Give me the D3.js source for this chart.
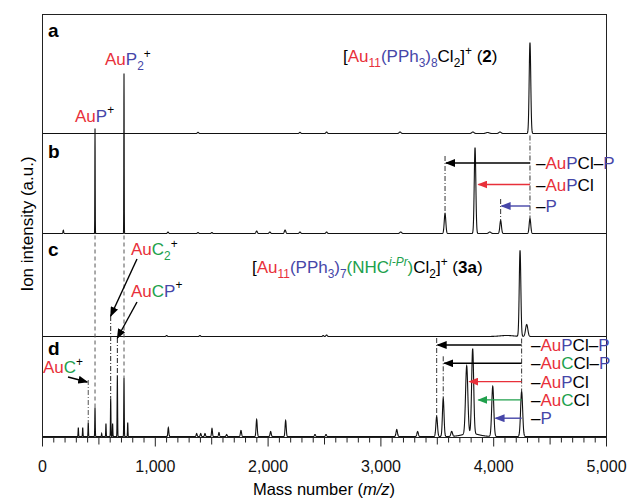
<!DOCTYPE html>
<html>
<head>
<meta charset="utf-8">
<script src="https://cdn.jsdelivr.net/npm/d3@7"></script>
<style>
body { margin: 0; background: #fff; }
text { font-family: "Liberation Sans", Arial, Helvetica, sans-serif; }
</style>
</head>
<body>
<script>
(function(){

    // peak lists: m/z, intensity (a.u.), peak sigma (m/z)
    var massA = [1383, 2287, 2523, 3174, 3820, 3950, 4060, 4326];
    var intA  = [1.2, 1.2, 1.5, 1.5, 1.5, 1, 1.5, 91];
    var sigA  = [6, 6, 6, 8, 10, 14, 10, 7];

    var massB = [189, 470, 727, 1117, 1383, 1506, 1903, 2020, 2155, 2287, 2523, 3180, 3573, 3839, 3970, 4066, 4326];
    var intB  = [3.3, 105, 160, 1.5, 1, 1, 2.5, 1.5, 3.5, 1.5, 1.5, 1.5, 20, 86, 1.5, 13, 15];
    var sigB  = [3, 1.5, 1.5, 5, 5, 5, 6, 6, 6, 6, 6, 8, 7, 7, 10, 7, 7];

    var massC = [1105, 1400, 2493, 2523, 4120, 4238, 4297];
    var intC  = [1, 1, 1, 1.5, 1, 86, 12];
    var sigC  = [5, 5, 5, 6, 60, 7, 10];

    var massD = [322, 361, 410, 470, 529, 567, 609, 626, 668, 727, 760,
                 1120, 1371, 1407, 1445, 1507, 1569, 1637, 1764, 1903, 2027, 2160, 2420, 2518,
                 3145, 3330, 3499, 3557, 3632, 3765, 3800, 3818, 3996, 4252];
    var intD  = [9, 9, 14, 29, 3, 13, 38, 13, 61, 59, 14,
                 9, 3, 3, 3, 8, 4, 2, 6, 17, 5, 16, 2, 2,
                 7, 5, 20, 38, 5, 68, 3, 85, 50, 45];
    var sigD  = [2, 2, 2, 2, 2, 2, 2, 2, 2, 2, 2,
                 4, 4, 4, 4, 4, 4, 4, 5, 5, 5, 5, 5, 5,
                 6, 6, 7, 7, 7, 10, 70, 9, 9, 9];

    var xTicks = [0, 1000, 2000, 3000, 4000, 5000];

    var R = "#e8303a", B = "#4646a8", G = "#20a04c", K = "#000";

    // fragment annotations: parent m/z, target m/z, arrow colour, label parts
    var fragB = [
        {from: 4326, to: 3573, color: K, dash: true,
         label: [["\u2013", K], ["Au", R], ["P", B], ["Cl\u2013", K], ["P", B]]},
        {from: 4326, to: 3860, color: R, dash: false,
         label: [["\u2013", K], ["Au", R], ["P", B], ["Cl", K]]},
        {from: 4326, to: 4066, color: B, dash: true,
         label: [["\u2013", K], ["P", B]]}
    ];
    var fragD = [
        {from: 4252, to: 3499, color: K, dash: true,
         label: [["\u2013", K], ["Au", R], ["P", B], ["Cl\u2013", K], ["P", B]]},
        {from: 4252, to: 3557, color: K, dash: true,
         label: [["\u2013", K], ["Au", R], ["C", G], ["Cl\u2013", K], ["P", B]]},
        {from: 4252, to: 3780, color: R, dash: false,
         label: [["\u2013", K], ["Au", R], ["P", B], ["Cl", K]]},
        {from: 4252, to: 3860, color: G, dash: false,
         label: [["\u2013", K], ["Au", R], ["C", G], ["Cl", K]]},
        {from: 4252, to: 4012, color: B, dash: false,
         label: [["\u2013", K], ["P", B]]}
    ];

    var width = 627, height = 501;
    var left = 42, right = 606, top = 14, bottom = 437;
    var base = {a: 133.5, b: 233.5, c: 336.5, d: 436.5};

    var svg = d3.select("body").append("svg")
        .attr("width", width)
        .attr("height", height);

    var defs = svg.append("defs");
    [K, R, G, B].forEach(function(c, i) {
        defs.append("marker")
            .attr("id", "arr" + i)
            .attr("markerUnits", "userSpaceOnUse")
            .attr("viewBox", "0 0 10 8")
            .attr("refX", 9).attr("refY", 4)
            .attr("markerWidth", 10).attr("markerHeight", 8)
            .attr("orient", "auto")
            .append("path")
            .attr("d", "M0,0L10,4L0,8Z")
            .attr("fill", c);
    });
    function marker(c) { return "url(#arr" + [K, R, G, B].indexOf(c) + ")"; }

    var x = d3.scaleLinear().domain([0, 5000]).range([left, right]);

    function yScale(b) {
        return d3.scaleLinear().domain([0, 100]).range([b, b - 100]);
    }

    function spectrum(masses, ints, sigs) {
        var pts = [];
        for (var m = 0; m <= 5000; m += 1) {
            var v = 0;
            for (var i = 0; i < masses.length; i++) {
                var d = (m - masses[i]) / sigs[i];
                if (Math.abs(d) < 6) v += ints[i] * Math.exp(-0.5 * d * d);
            }
            pts.push([m, v]);
        }
        return pts;
    }

    function drawSpectrum(masses, ints, sigs, b) {
        var y = yScale(b);
        var line = d3.line()
            .x(function(d) { return x(d[0]); })
            .y(function(d) { return y(d[1]); });
        svg.append("path")
            .datum(spectrum(masses, ints, sigs))
            .attr("d", line)
            .attr("fill", "none")
            .attr("stroke", "#111")
            .attr("stroke-width", 1.1);
        return y;
    }

    // rich text: parts are [text, colour, kind] kind = sub|sup|b|supi|i
    function rich(px, py, parts, size) {
        var t = svg.append("text")
            .attr("x", px).attr("y", py)
            .style("font-size", size + "px");
        var shift = 0;
        parts.forEach(function(p) {
            var kind = p[2] || "";
            var s = t.append("tspan").text(p[0]).attr("fill", p[1] || K);
            var target = kind == "sub" ? size * 0.3 : (kind.indexOf("sup") == 0 ? -size * 0.42 : 0);
            if (target != shift) { s.attr("dy", target - shift); shift = target; }
            if (kind == "sub" || kind.indexOf("sup") == 0) s.style("font-size", (size * 0.7) + "px");
            if (kind == "b") s.style("font-weight", "bold");
            if (kind == "supi" || kind == "i") s.style("font-style", "italic");
        });
        return t;
    }

    function vline(mass, y1, y2, color, dash) {
        svg.append("line")
            .attr("x1", x(mass)).attr("x2", x(mass))
            .attr("y1", y1).attr("y2", y2)
            .attr("stroke", color)
            .attr("stroke-width", 1)
            .attr("stroke-dasharray", dash);
    }

    function arrow(x1, y1, x2, y2, color) {
        svg.append("line")
            .attr("x1", x1).attr("y1", y1)
            .attr("x2", x2).attr("y2", y2)
            .attr("stroke", color)
            .attr("stroke-width", 1.4)
            .attr("marker-end", marker(color));
    }

    function peakTop(masses, ints, sigs, m, y) {
        var v = 0;
        for (var i = 0; i < masses.length; i++) {
            var d = (m - masses[i]) / sigs[i];
            v += ints[i] * Math.exp(-0.5 * d * d);
        }
        return y(v);
    }

    // spectra
    var yA = drawSpectrum(massA, intA, sigA, base.a);
    var yB = drawSpectrum(massB, intB, sigB, base.b);
    var yC = drawSpectrum(massC, intC, sigC, base.c);
    var yD = drawSpectrum(massD, intD, sigD, base.d);

    // frame
    svg.append("rect")
        .attr("x", left + 0.5).attr("y", top + 0.5)
        .attr("width", right - left).attr("height", bottom - top)
        .attr("fill", "none")
        .attr("stroke", "#222")
        .attr("stroke-width", 1);

    // x axis with minor ticks
    var minor = d3.range(0, 5001, 100).filter(function(d) { return d % 1000 != 0; });
    var gMinor = svg.append("g")
        .attr("transform", "translate(0," + (bottom + 0.5) + ")")
        .call(d3.axisBottom(x).tickValues(minor).tickSize(5).tickFormat(""));
    gMinor.selectAll(".tick line")
        .attr("y2", function(d) { return d % 500 == 0 ? 7 : 5; });
    var gMajor = svg.append("g")
        .attr("transform", "translate(0," + (bottom + 0.5) + ")")
        .call(d3.axisBottom(x).tickValues(xTicks).tickSize(9).tickPadding(14).tickFormat(d3.format(",")));
    [gMinor, gMajor].forEach(function(g) {
        g.select(".domain").remove();
        g.selectAll(".tick line").attr("stroke", "#222");
    });
    gMajor.selectAll("text")
        .style("font-size", "16px")
        .style("font-family", "'Liberation Sans', Arial, sans-serif")
        .attr("fill", "#111");

    rich((left + right) / 2, 495, [["Mass number (", K], ["m/z", K, "i"], [")", K]], 16.5)
        .attr("text-anchor", "middle");

    svg.append("text")
        .attr("transform", "translate(33,224) rotate(-90)")
        .attr("text-anchor", "middle")
        .style("font-size", "17px")
        .text("Ion intensity (a.u.)");

    // panel letters
    [["a", 36.5], ["b", 158], ["c", 256], ["d", 355]].forEach(function(p) {
        svg.append("text")
            .attr("x", 48).attr("y", p[1])
            .style("font-size", "19px")
            .style("font-weight", "bold")
            .text(p[0]);
    });

    // titles
    rich(343, 62, [["[", K], ["Au", R], ["11", R, "sub"], ["(PPh", B], ["3", B, "sub"], [")", B],
                   ["8", B, "sub"], ["Cl", K], ["2", K, "sub"], ["]", K], ["+", K, "sup"],
                   [" (", K], ["2", K, "b"], [")", K]], 17);
    rich(252, 273, [["[", K], ["Au", R], ["11", R, "sub"], ["(PPh", B], ["3", B, "sub"], [")", B],
                    ["7", B, "sub"], ["(NHC", G], ["i-Pr", G, "supi"], [")", G], ["Cl", K],
                    ["2", K, "sub"], ["]", K], ["+", K, "sup"], [" (", K], ["3a", K, "b"], [")", K]], 17);

    // low-mass labels
    rich(75, 121.5, [["Au", R], ["P", B], ["+", K, "sup"]], 17);
    rich(105, 65, [["Au", R], ["P", B], ["2", B, "sub"], ["+", K, "sup"]], 17);
    rich(131, 255, [["Au", R], ["C", G], ["2", G, "sub"], ["+", K, "sup"]], 17);
    rich(131, 296.5, [["Au", R], ["C", G], ["P", B], ["+", K, "sup"]], 17);
    rich(43, 373, [["Au", R], ["C", G], ["+", K, "sup"]], 17);

    // guide lines between panels
    var dashed = "4,3", dashDot = "5,2,1,2";
    vline(470, base.b + 2, peakTop(massD, intD, sigD, 470, yD), "#555", dashed);
    vline(727, base.b + 2, peakTop(massD, intD, sigD, 727, yD), "#555", dashed);
    vline(609, 316, peakTop(massD, intD, sigD, 609, yD), "#222", dashDot);
    vline(668, 338, peakTop(massD, intD, sigD, 668, yD), "#222", dashDot);
    vline(410, 380, peakTop(massD, intD, sigD, 410, yD), "#555", dashDot);

    arrow(137, 259, x(609), 316, K);
    arrow(137, 302, x(668), 338, K);
    arrow(68, 377, x(410) - 1, 382, K);

    // fragment arrows
    function fragments(list, masses, ints, sigs, y, prevBase, rowTop, rowGap, labelX) {
        var parent = list[0].from;
        vline(parent, prevBase + 2, peakTop(masses, ints, sigs, parent, y), "#333", dashDot);
        list.forEach(function(f, i) {
            var ay = rowTop + i * rowGap;
            if (f.dash) vline(f.to, ay - 7, peakTop(masses, ints, sigs, f.to, y), "#333", dashDot);
            arrow(x(parent), ay, x(f.to) + 1, ay, f.color);
            rich(labelX, ay + 6, f.label, 17);
        });
    }
    fragments(fragB, massB, intB, sigB, yB, base.a, 163, 21.5, 536);
    fragments(fragD, massD, intD, sigD, yD, base.c, 345, 18.3, 531);

})();
</script>
</body>
</html>
